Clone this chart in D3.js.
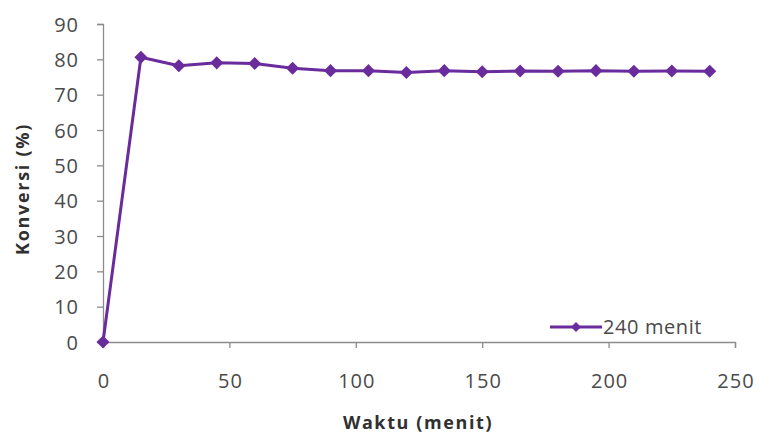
<!DOCTYPE html>
<html>
<head>
<meta charset="utf-8">
<script src="https://cdn.jsdelivr.net/npm/d3@7"></script>
<style>
  html, body { margin: 0; padding: 0; background: #ffffff; }
  svg { display: block; }
  text { font-family: "Open Sans", Lato, sans-serif; }
</style>
</head>
<body>
<svg id="chart" width="758" height="436"></svg>
<script>
// Reaction time (minutes) and conversion (%)
const waktu = [0, 15, 30, 45, 60, 75, 90, 105, 120, 135, 150, 165, 180, 195, 210, 225, 240];
const konversi = [0, 80.6, 78.2, 79.0, 78.8, 77.5, 76.8, 76.8, 76.3, 76.8, 76.5, 76.7, 76.6, 76.8, 76.6, 76.7, 76.6];
const xTicks = [0, 50, 100, 150, 200, 250];
const yTicks = [0, 10, 20, 30, 40, 50, 60, 70, 80, 90];
const seriesName = "240 menit";

const svg = d3.select("#chart");
const plotLeft = 103, plotRight = 735, plotTop = 24, plotBottom = 342;
const purple = "#6a2c9c";
const axisGray = "#8c8c8c";
const labelGray = "#4a4a4a";

const x = d3.scaleLinear().domain([0, 250]).range([plotLeft, plotRight]);
const y = d3.scaleLinear().domain([0, 90]).range([plotBottom, plotTop]);

// Y axis
const yAxis = svg.append("g")
  .attr("transform", `translate(${plotLeft},0)`)
  .call(d3.axisLeft(y).tickValues(yTicks).tickSize(6).tickPadding(18));
// X axis
const xAxis = svg.append("g")
  .attr("transform", `translate(0,${plotBottom})`)
  .call(d3.axisBottom(x).tickValues(xTicks).tickSize(6).tickPadding(26));

[yAxis, xAxis].forEach(g => {
  g.select(".domain").attr("stroke", axisGray).attr("stroke-width", 1.3);
  g.selectAll(".tick line").attr("stroke", axisGray).attr("stroke-width", 1.3);
  g.selectAll(".tick text").attr("fill", labelGray).attr("font-size", 20)
    .attr("letter-spacing", 1);
});
yAxis.selectAll(".tick text").attr("dy", "0.35em");
xAxis.selectAll(".tick text").attr("dx", 0.5);

// Axis titles
svg.append("text")
  .attr("x", 418).attr("y", 429)
  .attr("text-anchor", "middle")
  .attr("font-size", 18).attr("font-weight", "bold").attr("fill", "#303030")
  .attr("letter-spacing", 1.6)
  .text("Waktu (menit)");
svg.append("text")
  .attr("transform", "translate(29,189) rotate(-90)")
  .attr("text-anchor", "middle")
  .attr("font-size", 18).attr("font-weight", "bold").attr("fill", "#303030")
  .attr("letter-spacing", 1.7)
  .text("Konversi (%)");

// Series line
const pts = waktu.map((w, i) => [w, konversi[i]]);
svg.append("path")
  .datum(pts)
  .attr("fill", "none")
  .attr("stroke", purple)
  .attr("stroke-width", 3)
  .attr("stroke-linejoin", "round")
  .attr("d", d3.line().x(d => x(d[0])).y(d => y(d[1])));

// Diamond markers
const diamond = d3.symbol().type(d3.symbolSquare).size(85);
svg.append("g").selectAll("path")
  .data(pts)
  .join("path")
  .attr("d", diamond)
  .attr("fill", purple)
  .attr("transform", d => `translate(${x(d[0])},${y(d[1])}) rotate(45)`);

// Legend
const lg = svg.append("g").attr("transform", "translate(550,327)");
lg.append("line").attr("x1", 0).attr("x2", 52).attr("y1", 0).attr("y2", 0)
  .attr("stroke", purple).attr("stroke-width", 3);
lg.append("path").attr("d", d3.symbol().type(d3.symbolSquare).size(50))
  .attr("fill", purple).attr("transform", "translate(26,0) rotate(45)");
lg.append("text").attr("x", 53).attr("y", 0).attr("dy", "0.35em")
  .attr("font-size", 20).attr("fill", labelGray).attr("letter-spacing", 0.6)
  .text(seriesName);
</script>
</body>
</html>
